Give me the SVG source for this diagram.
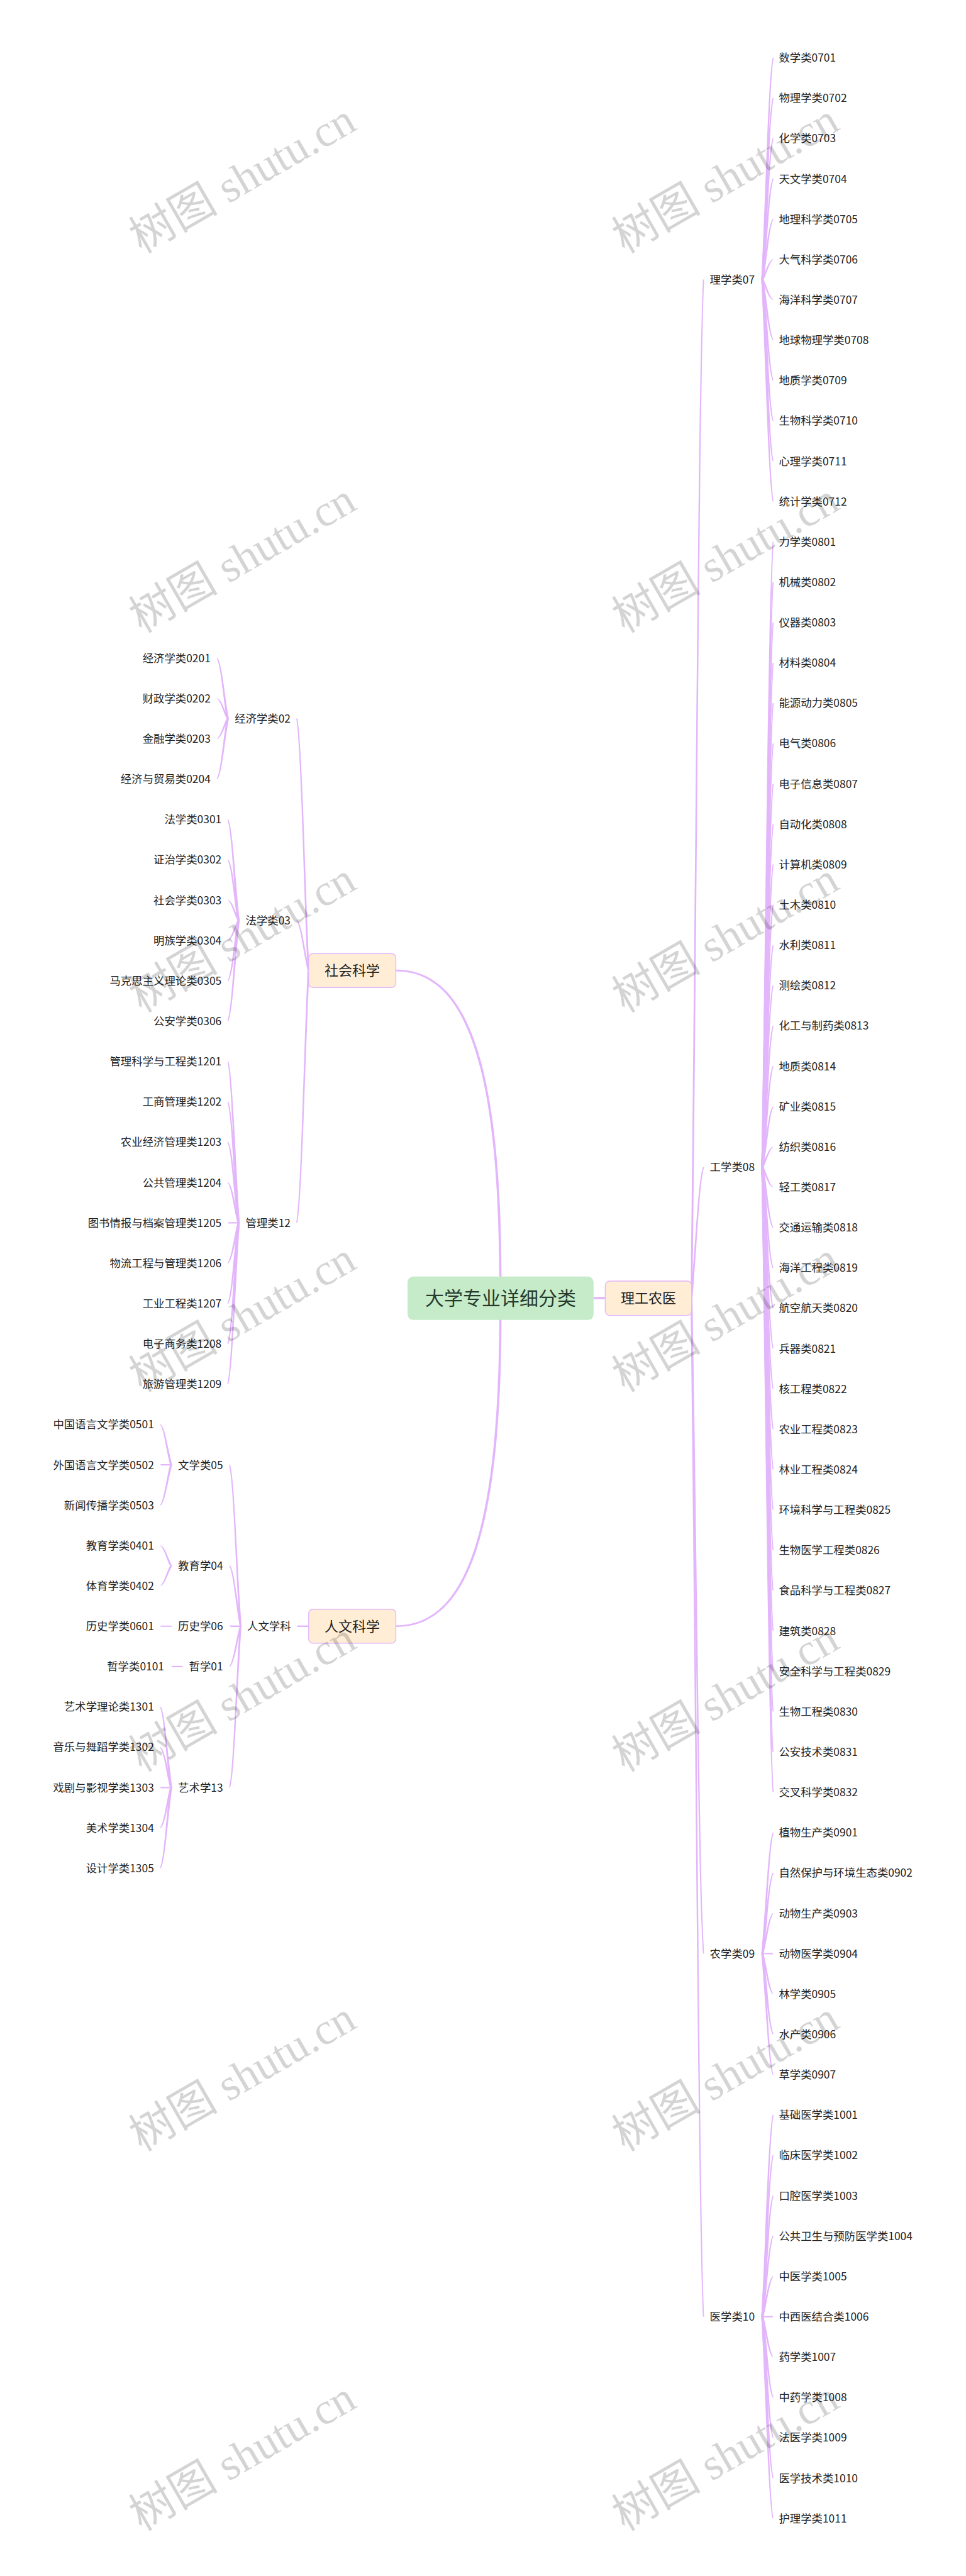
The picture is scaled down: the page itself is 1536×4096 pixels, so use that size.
<svg xmlns="http://www.w3.org/2000/svg" width="1536" height="4096" viewBox="0 0 1536 4096">
<style>
text{font-family:"Noto Sans CJK SC","Noto Sans",sans-serif;fill:#222}
.l{font-size:17.4px}
.e{text-anchor:end}
.m{font-size:22px;text-anchor:middle}
.r{font-size:30px;text-anchor:middle;fill:#263a2d}
.b{fill:#FFEDD6;stroke:#E3B6FB;stroke-width:1.4}
#connectors path{fill:#E3B6FB}
#watermark text{font-family:"Liberation Serif","Noto Sans CJK SC",serif;font-size:71px;fill:#000;fill-opacity:.17}
</style>
<rect width="1536" height="4096" fill="#fff"/>
<g id="connectors">
<path d="M793.8 2064C796 1680 736.5 1544.4 629.4 1544.4V1541.8C740 1541.8 800 1680 797.4 2064Z"/>
<path d="M793.8 2064C796 2448 736.5 2584.4 629.4 2584.4V2587C740 2587 800 2448 797.4 2064Z"/>
<path d="M944 2062.2h18v3.6h-18z"/>
<path d="M1098 2064c7.9 -647.77 11.8 -1457.49 19.8 -1619.43h1.8c-7.4 161.94 -11 971.66 -18.6 1619.43z"/>
<path d="M1098 2064c7.9 -83.34 11.8 -187.52 19.8 -208.35h1.8c-7.4 20.84 -11 125.01 -18.6 208.35z"/>
<path d="M1098 2064c7.9 416.95 11.8 938.14 19.8 1042.38h1.8c-7.4 -104.24 -11 -625.43 -18.6 -1042.38z"/>
<path d="M1098 2064c7.9 647.86 11.8 1457.68 19.8 1619.64h1.8c-7.4 -161.96 -11 -971.78 -18.6 -1619.64z"/>
<path d="M492 1543.2c-7.7 -160.24 -11.5 -360.53 -19.2 -400.59h-1.8c7.2 40.06 10.8 240.35 18 400.59z"/>
<path d="M492 1543.2c-7.7 -31.96 -11.5 -71.9 -19.2 -79.89h-1.8c7.2 7.99 10.8 47.93 18 79.89z"/>
<path d="M492 1543.2c-7.7 160.46 -11.5 361.04 -19.2 401.16h-1.8c7.2 -40.12 10.8 -240.7 18 -401.16z"/>
<path d="M472.8 2584.6h18v2.4h-18z"/>
<path d="M384 2585.76c-7.2 -102.62 -10.8 -230.9 -18 -256.56h-1.8c6.7 25.66 10.1 153.94 16.8 256.56z"/>
<path d="M384 2585.76c-7.2 -38.48 -10.8 -86.59 -18 -96.21h-1.8c6.7 9.62 10.1 57.73 16.8 96.21z"/>
<path d="M366 2584.6h17v2.4h-17z"/>
<path d="M384 2585.76c-7.2 25.66 -10.8 57.73 -18 64.14h-1.8c6.7 -6.41 10.1 -38.48 16.8 -64.14z"/>
<path d="M384 2585.76c-7.2 102.62 -10.8 230.9 -18 256.56h-1.8c6.7 -25.66 10.1 -153.94 16.8 -256.56z"/>
<path d="M364 1142.61c-7.2 -38.48 -10.8 -86.59 -18 -96.21h-1.6c6.4 9.62 9.6 57.73 16 96.21z"/>
<path d="M364 1142.61c-7.2 -12.83 -10.8 -28.86 -18 -32.07h-1.6c6.4 3.21 9.6 19.24 16 32.07z"/>
<path d="M364 1142.61c-7.2 12.83 -10.8 28.86 -18 32.07h-1.6c6.4 -3.21 9.6 -19.24 16 -32.07z"/>
<path d="M364 1142.61c-7.2 38.48 -10.8 86.59 -18 96.21h-1.6c6.4 -9.62 9.6 -57.73 16 -96.21z"/>
<path d="M381.2 1463.31c-7.2 -64.14 -10.8 -144.32 -18 -160.35h-1.6c6.4 16.04 9.6 96.21 16 160.35z"/>
<path d="M381.2 1463.31c-7.2 -38.48 -10.8 -86.59 -18 -96.21h-1.6c6.4 9.62 9.6 57.73 16 96.21z"/>
<path d="M381.2 1463.31c-7.2 -12.83 -10.8 -28.86 -18 -32.07h-1.6c6.4 3.21 9.6 19.24 16 32.07z"/>
<path d="M381.2 1463.31c-7.2 12.83 -10.8 28.86 -18 32.07h-1.6c6.4 -3.21 9.6 -19.24 16 -32.07z"/>
<path d="M381.2 1463.31c-7.2 38.48 -10.8 86.59 -18 96.21h-1.6c6.4 -9.62 9.6 -57.73 16 -96.21z"/>
<path d="M381.2 1463.31c-7.2 64.14 -10.8 144.32 -18 160.35h-1.6c6.4 -16.04 9.6 -96.21 16 -160.35z"/>
<path d="M381.2 1944.36c-7.2 -102.62 -10.8 -230.9 -18 -256.56h-1.6c6.4 25.66 9.6 153.94 16 256.56z"/>
<path d="M381.2 1944.36c-7.2 -76.97 -10.8 -173.18 -18 -192.42h-1.6c6.4 19.24 9.6 115.45 16 192.42z"/>
<path d="M381.2 1944.36c-7.2 -51.31 -10.8 -115.45 -18 -128.28h-1.6c6.4 12.83 9.6 76.97 16 128.28z"/>
<path d="M381.2 1944.36c-7.2 -25.66 -10.8 -57.73 -18 -64.14h-1.6c6.4 6.41 9.6 38.48 16 64.14z"/>
<path d="M363 1943.26h17.4v2.2h-17.4z"/>
<path d="M381.2 1944.36c-7.2 25.66 -10.8 57.73 -18 64.14h-1.6c6.4 -6.41 9.6 -38.48 16 -64.14z"/>
<path d="M381.2 1944.36c-7.2 51.31 -10.8 115.45 -18 128.28h-1.6c6.4 -12.83 9.6 -76.97 16 -128.28z"/>
<path d="M381.2 1944.36c-7.2 76.97 -10.8 173.18 -18 192.42h-1.6c6.4 -19.24 9.6 -115.45 16 -192.42z"/>
<path d="M381.2 1944.36c-7.2 102.62 -10.8 230.9 -18 256.56h-1.6c6.4 -25.66 9.6 -153.94 16 -256.56z"/>
<path d="M273.8 2329.2c-7.2 -25.66 -10.8 -57.73 -18 -64.14h-1.6c6.4 6.41 9.6 38.48 16 64.14z"/>
<path d="M255.3 2328.1h17.5v2.2h-17.5z"/>
<path d="M273.8 2329.2c-7.2 25.66 -10.8 57.73 -18 64.14h-1.6c6.4 -6.41 9.6 -38.48 16 -64.14z"/>
<path d="M273.8 2489.55c-7.2 -12.83 -10.8 -28.86 -18 -32.07h-1.6c6.4 3.21 9.6 19.24 16 32.07z"/>
<path d="M273.8 2489.55c-7.2 12.83 -10.8 28.86 -18 32.07h-1.6c6.4 -3.21 9.6 -19.24 16 -32.07z"/>
<path d="M255.3 2584.66h17.5v2.2h-17.5z"/>
<path d="M272.8 2648.8h17.6v2.2h-17.6z"/>
<path d="M273.8 2842.32c-7.2 -51.31 -10.8 -115.45 -18 -128.28h-1.6c6.4 12.83 9.6 76.97 16 128.28z"/>
<path d="M273.8 2842.32c-7.2 -25.66 -10.8 -57.73 -18 -64.14h-1.6c6.4 6.41 9.6 38.48 16 64.14z"/>
<path d="M255.3 2841.22h17.5v2.2h-17.5z"/>
<path d="M273.8 2842.32c-7.2 25.66 -10.8 57.73 -18 64.14h-1.6c6.4 -6.41 9.6 -38.48 16 -64.14z"/>
<path d="M273.8 2842.32c-7.2 51.31 -10.8 115.45 -18 128.28h-1.6c6.4 -12.83 9.6 -76.97 16 -128.28z"/>
<path d="M1210.5 444.57c7.2 -141.11 10.8 -317.49 18 -352.77h1.6c-6.4 35.28 -9.6 211.66 -16 352.77z"/>
<path d="M1210.5 444.57c7.2 -115.45 10.8 -259.77 18 -288.63h1.6c-6.4 28.86 -9.6 173.18 -16 288.63z"/>
<path d="M1210.5 444.57c7.2 -89.8 10.8 -202.04 18 -224.49h1.6c-6.4 22.45 -9.6 134.69 -16 224.49z"/>
<path d="M1210.5 444.57c7.2 -64.14 10.8 -144.32 18 -160.35h1.6c-6.4 16.04 -9.6 96.21 -16 160.35z"/>
<path d="M1210.5 444.57c7.2 -38.48 10.8 -86.59 18 -96.21h1.6c-6.4 9.62 -9.6 57.73 -16 96.21z"/>
<path d="M1210.5 444.57c7.2 -12.83 10.8 -28.86 18 -32.07h1.6c-6.4 3.21 -9.6 19.24 -16 32.07z"/>
<path d="M1210.5 444.57c7.2 12.83 10.8 28.86 18 32.07h1.6c-6.4 -3.21 -9.6 -19.24 -16 -32.07z"/>
<path d="M1210.5 444.57c7.2 38.48 10.8 86.59 18 96.21h1.6c-6.4 -9.62 -9.6 -57.73 -16 -96.21z"/>
<path d="M1210.5 444.57c7.2 64.14 10.8 144.32 18 160.35h1.6c-6.4 -16.04 -9.6 -96.21 -16 -160.35z"/>
<path d="M1210.5 444.57c7.2 89.8 10.8 202.04 18 224.49h1.6c-6.4 -22.45 -9.6 -134.69 -16 -224.49z"/>
<path d="M1210.5 444.57c7.2 115.45 10.8 259.77 18 288.63h1.6c-6.4 -28.86 -9.6 -173.18 -16 -288.63z"/>
<path d="M1210.5 444.57c7.2 141.11 10.8 317.49 18 352.77h1.6c-6.4 -35.28 -9.6 -211.66 -16 -352.77z"/>
<path d="M1210.5 1855.65c7.2 -397.67 10.8 -894.75 18 -994.17h1.6c-6.4 99.42 -9.6 596.5 -16 994.17z"/>
<path d="M1210.5 1855.65c7.2 -372.01 10.8 -837.03 18 -930.03h1.6c-6.4 93 -9.6 558.02 -16 930.03z"/>
<path d="M1210.5 1855.65c7.2 -346.36 10.8 -779.3 18 -865.89h1.6c-6.4 86.59 -9.6 519.53 -16 865.89z"/>
<path d="M1210.5 1855.65c7.2 -320.7 10.8 -721.58 18 -801.75h1.6c-6.4 80.18 -9.6 481.05 -16 801.75z"/>
<path d="M1210.5 1855.65c7.2 -295.04 10.8 -663.85 18 -737.61h1.6c-6.4 73.76 -9.6 442.57 -16 737.61z"/>
<path d="M1210.5 1855.65c7.2 -269.39 10.8 -606.12 18 -673.47h1.6c-6.4 67.35 -9.6 404.08 -16 673.47z"/>
<path d="M1210.5 1855.65c7.2 -243.73 10.8 -548.4 18 -609.33h1.6c-6.4 60.93 -9.6 365.6 -16 609.33z"/>
<path d="M1210.5 1855.65c7.2 -218.08 10.8 -490.67 18 -545.19h1.6c-6.4 54.52 -9.6 327.11 -16 545.19z"/>
<path d="M1210.5 1855.65c7.2 -192.42 10.8 -432.95 18 -481.05h1.6c-6.4 48.11 -9.6 288.63 -16 481.05z"/>
<path d="M1210.5 1855.65c7.2 -166.76 10.8 -375.22 18 -416.91h1.6c-6.4 41.69 -9.6 250.15 -16 416.91z"/>
<path d="M1210.5 1855.65c7.2 -141.11 10.8 -317.49 18 -352.77h1.6c-6.4 35.28 -9.6 211.66 -16 352.77z"/>
<path d="M1210.5 1855.65c7.2 -115.45 10.8 -259.77 18 -288.63h1.6c-6.4 28.86 -9.6 173.18 -16 288.63z"/>
<path d="M1210.5 1855.65c7.2 -89.8 10.8 -202.04 18 -224.49h1.6c-6.4 22.45 -9.6 134.69 -16 224.49z"/>
<path d="M1210.5 1855.65c7.2 -64.14 10.8 -144.32 18 -160.35h1.6c-6.4 16.04 -9.6 96.21 -16 160.35z"/>
<path d="M1210.5 1855.65c7.2 -38.48 10.8 -86.59 18 -96.21h1.6c-6.4 9.62 -9.6 57.73 -16 96.21z"/>
<path d="M1210.5 1855.65c7.2 -12.83 10.8 -28.86 18 -32.07h1.6c-6.4 3.21 -9.6 19.24 -16 32.07z"/>
<path d="M1210.5 1855.65c7.2 12.83 10.8 28.86 18 32.07h1.6c-6.4 -3.21 -9.6 -19.24 -16 -32.07z"/>
<path d="M1210.5 1855.65c7.2 38.48 10.8 86.59 18 96.21h1.6c-6.4 -9.62 -9.6 -57.73 -16 -96.21z"/>
<path d="M1210.5 1855.65c7.2 64.14 10.8 144.32 18 160.35h1.6c-6.4 -16.04 -9.6 -96.21 -16 -160.35z"/>
<path d="M1210.5 1855.65c7.2 89.8 10.8 202.04 18 224.49h1.6c-6.4 -22.45 -9.6 -134.69 -16 -224.49z"/>
<path d="M1210.5 1855.65c7.2 115.45 10.8 259.77 18 288.63h1.6c-6.4 -28.86 -9.6 -173.18 -16 -288.63z"/>
<path d="M1210.5 1855.65c7.2 141.11 10.8 317.49 18 352.77h1.6c-6.4 -35.28 -9.6 -211.66 -16 -352.77z"/>
<path d="M1210.5 1855.65c7.2 166.76 10.8 375.22 18 416.91h1.6c-6.4 -41.69 -9.6 -250.15 -16 -416.91z"/>
<path d="M1210.5 1855.65c7.2 192.42 10.8 432.95 18 481.05h1.6c-6.4 -48.11 -9.6 -288.63 -16 -481.05z"/>
<path d="M1210.5 1855.65c7.2 218.08 10.8 490.67 18 545.19h1.6c-6.4 -54.52 -9.6 -327.11 -16 -545.19z"/>
<path d="M1210.5 1855.65c7.2 243.73 10.8 548.4 18 609.33h1.6c-6.4 -60.93 -9.6 -365.6 -16 -609.33z"/>
<path d="M1210.5 1855.65c7.2 269.39 10.8 606.12 18 673.47h1.6c-6.4 -67.35 -9.6 -404.08 -16 -673.47z"/>
<path d="M1210.5 1855.65c7.2 295.04 10.8 663.85 18 737.61h1.6c-6.4 -73.76 -9.6 -442.57 -16 -737.61z"/>
<path d="M1210.5 1855.65c7.2 320.7 10.8 721.58 18 801.75h1.6c-6.4 -80.18 -9.6 -481.05 -16 -801.75z"/>
<path d="M1210.5 1855.65c7.2 346.36 10.8 779.3 18 865.89h1.6c-6.4 -86.59 -9.6 -519.53 -16 -865.89z"/>
<path d="M1210.5 1855.65c7.2 372.01 10.8 837.03 18 930.03h1.6c-6.4 -93 -9.6 -558.02 -16 -930.03z"/>
<path d="M1210.5 1855.65c7.2 397.67 10.8 894.75 18 994.17h1.6c-6.4 -99.42 -9.6 -596.5 -16 -994.17z"/>
<path d="M1210.5 3106.38c7.2 -76.97 10.8 -173.18 18 -192.42h1.6c-6.4 19.24 -9.6 115.45 -16 192.42z"/>
<path d="M1210.5 3106.38c7.2 -51.31 10.8 -115.45 18 -128.28h1.6c-6.4 12.83 -9.6 76.97 -16 128.28z"/>
<path d="M1210.5 3106.38c7.2 -25.66 10.8 -57.73 18 -64.14h1.6c-6.4 6.41 -9.6 38.48 -16 64.14z"/>
<path d="M1212 3105.28h17v2.2h-17z"/>
<path d="M1210.5 3106.38c7.2 25.66 10.8 57.73 18 64.14h1.6c-6.4 -6.41 -9.6 -38.48 -16 -64.14z"/>
<path d="M1210.5 3106.38c7.2 51.31 10.8 115.45 18 128.28h1.6c-6.4 -12.83 -9.6 -76.97 -16 -128.28z"/>
<path d="M1210.5 3106.38c7.2 76.97 10.8 173.18 18 192.42h1.6c-6.4 -19.24 -9.6 -115.45 -16 -192.42z"/>
<path d="M1210.5 3683.64c7.2 -128.28 10.8 -288.63 18 -320.7h1.6c-6.4 32.07 -9.6 192.42 -16 320.7z"/>
<path d="M1210.5 3683.64c7.2 -102.62 10.8 -230.9 18 -256.56h1.6c-6.4 25.66 -9.6 153.94 -16 256.56z"/>
<path d="M1210.5 3683.64c7.2 -76.97 10.8 -173.18 18 -192.42h1.6c-6.4 19.24 -9.6 115.45 -16 192.42z"/>
<path d="M1210.5 3683.64c7.2 -51.31 10.8 -115.45 18 -128.28h1.6c-6.4 12.83 -9.6 76.97 -16 128.28z"/>
<path d="M1210.5 3683.64c7.2 -25.66 10.8 -57.73 18 -64.14h1.6c-6.4 6.41 -9.6 38.48 -16 64.14z"/>
<path d="M1212 3682.54h17v2.2h-17z"/>
<path d="M1210.5 3683.64c7.2 25.66 10.8 57.73 18 64.14h1.6c-6.4 -6.41 -9.6 -38.48 -16 -64.14z"/>
<path d="M1210.5 3683.64c7.2 51.31 10.8 115.45 18 128.28h1.6c-6.4 -12.83 -9.6 -76.97 -16 -128.28z"/>
<path d="M1210.5 3683.64c7.2 76.97 10.8 173.18 18 192.42h1.6c-6.4 -19.24 -9.6 -115.45 -16 -192.42z"/>
<path d="M1210.5 3683.64c7.2 102.62 10.8 230.9 18 256.56h1.6c-6.4 -25.66 -9.6 -153.94 -16 -256.56z"/>
<path d="M1210.5 3683.64c7.2 128.28 10.8 288.63 18 320.7h1.6c-6.4 -32.07 -9.6 -192.42 -16 -320.7z"/>
</g>
<g id="root"><rect x="648" y="2029.8" width="295.8" height="69" rx="9" fill="#C5EBC8"/><text class="r" x="795.9" y="2075">大学专业详细分类</text></g>
<g id="n-social"><rect class="b" x="490.8" y="1516.2" width="138.6" height="54" rx="7"/><text class="m" x="560" y="1551">社会科学</text></g>
<g id="n-human"><rect class="b" x="490.8" y="2558.8" width="138.6" height="54" rx="7"/><text class="m" x="560" y="2593.6">人文科学</text></g>
<g id="n-sci"><rect class="b" x="962.4" y="2037" width="137.4" height="54.6" rx="7"/><text class="m" x="1031" y="2072">理工农医</text></g>
<g id="p07"><text class="l" x="1128.6" y="450.9">理学类07</text></g>
<g id="p08"><text class="l" x="1128.6" y="1861.95">工学类08</text></g>
<g id="p09"><text class="l" x="1128.6" y="3112.68">农学类09</text></g>
<g id="p10"><text class="l" x="1128.6" y="3689.94">医学类10</text></g>
<g id="p02"><text class="l e" x="462" y="1148.9">经济学类02</text></g>
<g id="p03"><text class="l e" x="462" y="1469.6">法学类03</text></g>
<g id="p12"><text class="l e" x="462" y="1950.66">管理类12</text></g>
<g id="p-human"><text class="l e" x="462.6" y="2592.06">人文学科</text></g>
<g id="p05"><text class="l e" x="354.6" y="2335.5">文学类05</text></g>
<g id="p04"><text class="l e" x="354.6" y="2495.85">教育学04</text></g>
<g id="p06"><text class="l e" x="354.6" y="2592.06">历史学06</text></g>
<g id="p01"><text class="l e" x="354.6" y="2656.2">哲学01</text></g>
<g id="p13"><text class="l e" x="354.6" y="2848.62">艺术学13</text></g>
<g id="n0701"><text class="l" x="1238.4" y="98.1">数学类0701</text></g>
<g id="n0702"><text class="l" x="1238.4" y="162.24">物理学类0702</text></g>
<g id="n0703"><text class="l" x="1238.4" y="226.38">化学类0703</text></g>
<g id="n0704"><text class="l" x="1238.4" y="290.52">天文学类0704</text></g>
<g id="n0705"><text class="l" x="1238.4" y="354.66">地理科学类0705</text></g>
<g id="n0706"><text class="l" x="1238.4" y="418.8">大气科学类0706</text></g>
<g id="n0707"><text class="l" x="1238.4" y="482.94">海洋科学类0707</text></g>
<g id="n0708"><text class="l" x="1238.4" y="547.08">地球物理学类0708</text></g>
<g id="n0709"><text class="l" x="1238.4" y="611.22">地质学类0709</text></g>
<g id="n0710"><text class="l" x="1238.4" y="675.36">生物科学类0710</text></g>
<g id="n0711"><text class="l" x="1238.4" y="739.5">心理学类0711</text></g>
<g id="n0712"><text class="l" x="1238.4" y="803.64">统计学类0712</text></g>
<g id="n0801"><text class="l" x="1238.4" y="867.78">力学类0801</text></g>
<g id="n0802"><text class="l" x="1238.4" y="931.92">机械类0802</text></g>
<g id="n0803"><text class="l" x="1238.4" y="996.06">仪器类0803</text></g>
<g id="n0804"><text class="l" x="1238.4" y="1060.2">材料类0804</text></g>
<g id="n0805"><text class="l" x="1238.4" y="1124.34">能源动力类0805</text></g>
<g id="n0806"><text class="l" x="1238.4" y="1188.48">电气类0806</text></g>
<g id="n0807"><text class="l" x="1238.4" y="1252.62">电子信息类0807</text></g>
<g id="n0808"><text class="l" x="1238.4" y="1316.76">自动化类0808</text></g>
<g id="n0809"><text class="l" x="1238.4" y="1380.9">计算机类0809</text></g>
<g id="n0810"><text class="l" x="1238.4" y="1445.04">土木类0810</text></g>
<g id="n0811"><text class="l" x="1238.4" y="1509.18">水利类0811</text></g>
<g id="n0812"><text class="l" x="1238.4" y="1573.32">测绘类0812</text></g>
<g id="n0813"><text class="l" x="1238.4" y="1637.46">化工与制药类0813</text></g>
<g id="n0814"><text class="l" x="1238.4" y="1701.6">地质类0814</text></g>
<g id="n0815"><text class="l" x="1238.4" y="1765.74">矿业类0815</text></g>
<g id="n0816"><text class="l" x="1238.4" y="1829.88">纺织类0816</text></g>
<g id="n0817"><text class="l" x="1238.4" y="1894.02">轻工类0817</text></g>
<g id="n0818"><text class="l" x="1238.4" y="1958.16">交通运输类0818</text></g>
<g id="n0819"><text class="l" x="1238.4" y="2022.3">海洋工程类0819</text></g>
<g id="n0820"><text class="l" x="1238.4" y="2086.44">航空航天类0820</text></g>
<g id="n0821"><text class="l" x="1238.4" y="2150.58">兵器类0821</text></g>
<g id="n0822"><text class="l" x="1238.4" y="2214.72">核工程类0822</text></g>
<g id="n0823"><text class="l" x="1238.4" y="2278.86">农业工程类0823</text></g>
<g id="n0824"><text class="l" x="1238.4" y="2343">林业工程类0824</text></g>
<g id="n0825"><text class="l" x="1238.4" y="2407.14">环境科学与工程类0825</text></g>
<g id="n0826"><text class="l" x="1238.4" y="2471.28">生物医学工程类0826</text></g>
<g id="n0827"><text class="l" x="1238.4" y="2535.42">食品科学与工程类0827</text></g>
<g id="n0828"><text class="l" x="1238.4" y="2599.56">建筑类0828</text></g>
<g id="n0829"><text class="l" x="1238.4" y="2663.7">安全科学与工程类0829</text></g>
<g id="n0830"><text class="l" x="1238.4" y="2727.84">生物工程类0830</text></g>
<g id="n0831"><text class="l" x="1238.4" y="2791.98">公安技术类0831</text></g>
<g id="n0832"><text class="l" x="1238.4" y="2856.12">交叉科学类0832</text></g>
<g id="n0901"><text class="l" x="1238.4" y="2920.26">植物生产类0901</text></g>
<g id="n0902"><text class="l" x="1238.4" y="2984.4">自然保护与环境生态类0902</text></g>
<g id="n0903"><text class="l" x="1238.4" y="3048.54">动物生产类0903</text></g>
<g id="n0904"><text class="l" x="1238.4" y="3112.68">动物医学类0904</text></g>
<g id="n0905"><text class="l" x="1238.4" y="3176.82">林学类0905</text></g>
<g id="n0906"><text class="l" x="1238.4" y="3240.96">水产类0906</text></g>
<g id="n0907"><text class="l" x="1238.4" y="3305.1">草学类0907</text></g>
<g id="n1001"><text class="l" x="1238.4" y="3369.24">基础医学类1001</text></g>
<g id="n1002"><text class="l" x="1238.4" y="3433.38">临床医学类1002</text></g>
<g id="n1003"><text class="l" x="1238.4" y="3497.52">口腔医学类1003</text></g>
<g id="n1004"><text class="l" x="1238.4" y="3561.66">公共卫生与预防医学类1004</text></g>
<g id="n1005"><text class="l" x="1238.4" y="3625.8">中医学类1005</text></g>
<g id="n1006"><text class="l" x="1238.4" y="3689.94">中西医结合类1006</text></g>
<g id="n1007"><text class="l" x="1238.4" y="3754.08">药学类1007</text></g>
<g id="n1008"><text class="l" x="1238.4" y="3818.22">中药学类1008</text></g>
<g id="n1009"><text class="l" x="1238.4" y="3882.36">法医学类1009</text></g>
<g id="n1010"><text class="l" x="1238.4" y="3946.5">医学技术类1010</text></g>
<g id="n1011"><text class="l" x="1238.4" y="4010.64">护理学类1011</text></g>
<g id="n0201"><text class="l e" x="334.8" y="1052.7">经济学类0201</text></g>
<g id="n0202"><text class="l e" x="334.8" y="1116.84">财政学类0202</text></g>
<g id="n0203"><text class="l e" x="334.8" y="1180.98">金融学类0203</text></g>
<g id="n0204"><text class="l e" x="334.8" y="1245.12">经济与贸易类0204</text></g>
<g id="n0301"><text class="l e" x="352.2" y="1309.26">法学类0301</text></g>
<g id="n0302"><text class="l e" x="352.2" y="1373.4">证治学类0302</text></g>
<g id="n0303"><text class="l e" x="352.2" y="1437.54">社会学类0303</text></g>
<g id="n0304"><text class="l e" x="352.2" y="1501.68">明族学类0304</text></g>
<g id="n0305"><text class="l e" x="352.2" y="1565.82">马克思主义理论类0305</text></g>
<g id="n0306"><text class="l e" x="352.2" y="1629.96">公安学类0306</text></g>
<g id="n1201"><text class="l e" x="352.2" y="1694.1">管理科学与工程类1201</text></g>
<g id="n1202"><text class="l e" x="352.2" y="1758.24">工商管理类1202</text></g>
<g id="n1203"><text class="l e" x="352.2" y="1822.38">农业经济管理类1203</text></g>
<g id="n1204"><text class="l e" x="352.2" y="1886.52">公共管理类1204</text></g>
<g id="n1205"><text class="l e" x="352.2" y="1950.66">图书情报与档案管理类1205</text></g>
<g id="n1206"><text class="l e" x="352.2" y="2014.8">物流工程与管理类1206</text></g>
<g id="n1207"><text class="l e" x="352.2" y="2078.94">工业工程类1207</text></g>
<g id="n1208"><text class="l e" x="352.2" y="2143.08">电子商务类1208</text></g>
<g id="n1209"><text class="l e" x="352.2" y="2207.22">旅游管理类1209</text></g>
<g id="n0501"><text class="l e" x="244.8" y="2271.36">中国语言文学类0501</text></g>
<g id="n0502"><text class="l e" x="244.8" y="2335.5">外国语言文学类0502</text></g>
<g id="n0503"><text class="l e" x="244.8" y="2399.64">新闻传播学类0503</text></g>
<g id="n0401"><text class="l e" x="244.8" y="2463.78">教育学类0401</text></g>
<g id="n0402"><text class="l e" x="244.8" y="2527.92">体育学类0402</text></g>
<g id="n0601"><text class="l e" x="244.8" y="2592.06">历史学类0601</text></g>
<g id="n0101"><text class="l e" x="261" y="2656.2">哲学类0101</text></g>
<g id="n1301"><text class="l e" x="244.8" y="2720.34">艺术学理论类1301</text></g>
<g id="n1302"><text class="l e" x="244.8" y="2784.48">音乐与舞蹈学类1302</text></g>
<g id="n1303"><text class="l e" x="244.8" y="2848.62">戏剧与影视学类1303</text></g>
<g id="n1304"><text class="l e" x="244.8" y="2912.76">美术学类1304</text></g>
<g id="n1305"><text class="l e" x="244.8" y="2976.9">设计学类1305</text></g>
<g id="watermark">
<text transform="translate(225 404) rotate(-30)">树图 shutu.cn</text>
<text transform="translate(993 404) rotate(-30)">树图 shutu.cn</text>
<text transform="translate(225 1007.6) rotate(-30)">树图 shutu.cn</text>
<text transform="translate(993 1007.6) rotate(-30)">树图 shutu.cn</text>
<text transform="translate(225 1611.2) rotate(-30)">树图 shutu.cn</text>
<text transform="translate(993 1611.2) rotate(-30)">树图 shutu.cn</text>
<text transform="translate(225 2214.8) rotate(-30)">树图 shutu.cn</text>
<text transform="translate(993 2214.8) rotate(-30)">树图 shutu.cn</text>
<text transform="translate(225 2818.4) rotate(-30)">树图 shutu.cn</text>
<text transform="translate(993 2818.4) rotate(-30)">树图 shutu.cn</text>
<text transform="translate(225 3422) rotate(-30)">树图 shutu.cn</text>
<text transform="translate(993 3422) rotate(-30)">树图 shutu.cn</text>
<text transform="translate(225 4025.6) rotate(-30)">树图 shutu.cn</text>
<text transform="translate(993 4025.6) rotate(-30)">树图 shutu.cn</text>
</g>
</svg>
